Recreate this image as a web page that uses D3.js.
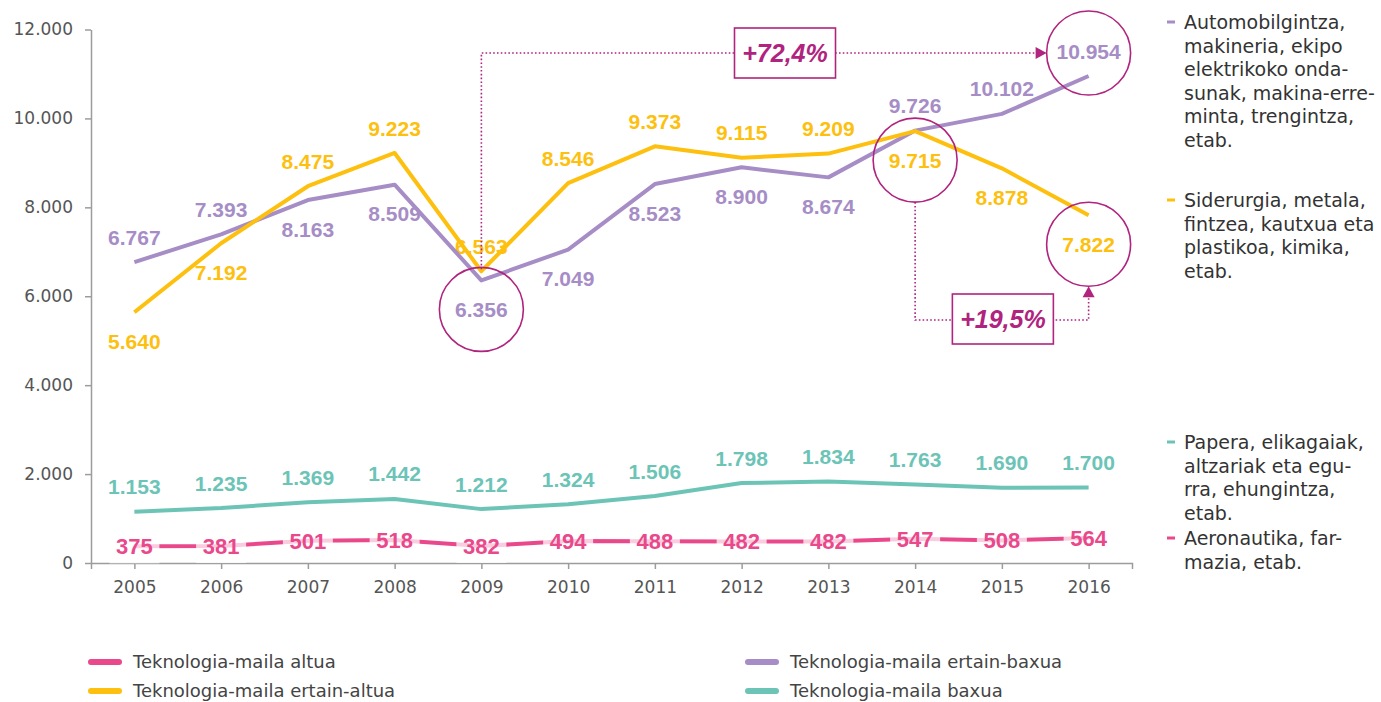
<!DOCTYPE html>
<html>
<head>
<meta charset="utf-8">
<script src="https://cdn.jsdelivr.net/npm/d3@7"></script>
<style>
  body { margin: 0; background: #fff; }
  svg text { font-family: "DejaVu Sans", sans-serif; }
</style>
</head>
<body>
<svg id="chart" width="1381" height="702"></svg>
<script>
// data
var years = [2005, 2006, 2007, 2008, 2009, 2010, 2011, 2012, 2013, 2014, 2015, 2016];
var altua = [375, 381, 501, 518, 382, 494, 488, 482, 482, 547, 508, 564];
var ertainAltua = [5640, 7192, 8475, 9223, 6563, 8546, 9373, 9115, 9209, 9715, 8878, 7822];
var ertainBaxua = [6767, 7393, 8163, 8509, 6356, 7049, 8523, 8900, 8674, 9726, 10102, 10954];
var baxua = [1153, 1235, 1369, 1442, 1212, 1324, 1506, 1798, 1834, 1763, 1690, 1700];
var yTicks = [0, 2000, 4000, 6000, 8000, 10000, 12000];

// where the value label sits (above / below the line)
var ertainAltuaPos = ["down", "down", "up", "up", "up", "up", "up", "up", "up", "down", "down", "down"];
var ertainBaxuaPos = ["up", "up", "down", "down", "down", "down", "down", "down", "down", "up", "up", "up"];

var legendNames = ["Teknologia-maila altua", "Teknologia-maila ertain-altua",
                   "Teknologia-maila ertain-baxua", "Teknologia-maila baxua"];

var sideNotes = [
  ["Automobilgintza,", "makineria, ekipo", "elektrikoko onda-", "sunak, makina-erre-", "minta, trengintza,", "etab."],
  ["Siderurgia, metala,", "fintzea, kautxua eta", "plastikoa, kimika,", "etab."],
  ["Papera, elikagaiak,", "altzariak eta egu-", "rra, ehungintza,", "etab."],
  ["Aeronautika, far-", "mazia, etab."]
];

var changeLabels = ["+72,4%", "+19,5%"];

var PINK = "#e9488b", YELLOW = "#fdc00f", PURPLE = "#a68dc6", TEAL = "#6cc4b7", MAGENTA = "#b0237e";

var locale = d3.formatLocale({ decimal: ",", thousands: ".", grouping: [3], currency: ["", "€"] });
var fmt = locale.format(",d");

var svg = d3.select("#chart");

var x = d3.scalePoint().domain(years).range([91, 1132]).padding(0.5);
var y = d3.scaleLinear().domain([0, 12000]).range([563, 29.5]);

// axes
var yAxis = d3.axisLeft(y).tickValues(yTicks).tickSize(6).tickSizeOuter(0).tickPadding(12).tickFormat(fmt);
var xAxis = d3.axisBottom(x).tickSize(6).tickSizeOuter(6).tickPadding(12);

var gy = svg.append("g").attr("transform", "translate(91,0)").call(yAxis);
var gx = svg.append("g").attr("transform", "translate(0,563)").call(xAxis);
[gx, gy].forEach(function (g) {
  g.selectAll("path, line").attr("stroke", "#9c9c9c").attr("stroke-width", 1.5);
  g.selectAll("text").attr("fill", "#555").style("font-size", "17px").style("font-family", "DejaVu Sans");
});

var line = d3.line().x(function (d, i) { return x(years[i]); }).y(function (d) { return y(d); });

function labelY(v, pos) {
  return pos === "up" ? y(v) - 25 : y(v) + 29;
}

function drawLabels(values, posArr, color) {
  svg.append("g").selectAll("text")
    .data(values)
    .enter()
    .append("text")
    .attr("x", function (d, i) { return x(years[i]); })
    .attr("y", function (d, i) { return labelY(d, posArr ? posArr[i] : "up"); })
    .attr("dy", "0.36em")
    .attr("text-anchor", "middle")
    .attr("fill", color)
    .style("font-family", "Liberation Sans, Arial, sans-serif")
    .style("font-weight", "bold")
    .style("font-size", "21px")
    .text(fmt);
}

// labels sit under the lines
drawLabels(ertainBaxua, ertainBaxuaPos, PURPLE);
drawLabels(ertainAltua, ertainAltuaPos, YELLOW);
drawLabels(baxua, null, TEAL);

function drawLine(values, color) {
  svg.append("path")
    .datum(values)
    .attr("fill", "none")
    .attr("stroke", color)
    .attr("stroke-width", 4)
    .attr("stroke-linejoin", "round")
    .attr("d", line);
}

drawLine(baxua, TEAL);
drawLine(altua, PINK);
drawLine(ertainBaxua, PURPLE);
drawLine(ertainAltua, YELLOW);

// pink labels on top of the line with a pale box
var pinkG = svg.append("g").selectAll("g")
  .data(altua)
  .enter()
  .append("g")
  .attr("transform", function (d, i) { return "translate(" + x(years[i]) + "," + y(d) + ")"; });
pinkG.append("rect")
  .attr("x", -25).attr("y", -16).attr("width", 50).attr("height", 33)
  .attr("fill", "#fff").attr("fill-opacity", 0.72);
pinkG.append("text")
  .attr("dy", "0.36em")
  .attr("text-anchor", "middle")
  .attr("fill", PINK)
  .style("font-family", "Liberation Sans, Arial, sans-serif")
  .style("font-weight", "bold")
  .style("font-size", "22px")
  .text(fmt);

/* annotations */
var R = 42;
var c1 = { x: x(2009), y: labelY(ertainBaxua[4], "down") };
var c2 = { x: x(2016), y: labelY(ertainBaxua[11], "up") + 2 };
var c3 = { x: x(2014), y: labelY(ertainAltua[9], "down") };
var c4 = { x: x(2016), y: labelY(ertainAltua[11], "down") };

var ann = svg.append("g");
ann.selectAll("circle")
  .data([c1, c2, c3, c4])
  .enter()
  .append("circle")
  .attr("cx", function (d) { return d.x; })
  .attr("cy", function (d) { return d.y; })
  .attr("r", R)
  .attr("fill", "none")
  .attr("stroke", MAGENTA)
  .attr("stroke-width", 1.6);

var dotted = function (d) {
  ann.append("path").attr("d", d).attr("fill", "none")
    .attr("stroke", MAGENTA).attr("stroke-width", 1.6).attr("stroke-dasharray", "1.6,2.2");
};

// 2009 -> 2016 (ertain-baxua)
var lineY1 = c2.y;
dotted("M" + c1.x + "," + (y(ertainAltua[4]) - 2) + "V" + lineY1 + "H" + (c2.x - R - 10));
ann.append("path")
  .attr("d", "M" + (c2.x - R) + "," + lineY1 + "l-11,-6v12z")
  .attr("fill", MAGENTA);

// 2014 -> 2016 (ertain-altua)
var lineY2 = 320;
dotted("M" + c3.x + "," + (c3.y + R) + "V" + lineY2 + "H" + c4.x + "V" + (c4.y + R + 10));
ann.append("path")
  .attr("d", "M" + c4.x + "," + (c4.y + R) + "l-6,11h12z")
  .attr("fill", MAGENTA);

var boxes = [
  { cx: (x(2012) + x(2013)) / 2, cy: lineY1, text: changeLabels[0] },
  { cx: x(2015) + 1, cy: lineY2 - 1, text: changeLabels[1] }
];
var bg = ann.selectAll("g.box").data(boxes).enter().append("g")
  .attr("transform", function (d) { return "translate(" + d.cx + "," + d.cy + ")"; });
bg.append("rect")
  .attr("x", -50.5).attr("y", -25).attr("width", 101).attr("height", 50)
  .attr("fill", "#fff").attr("stroke", MAGENTA).attr("stroke-width", 1.6);
bg.append("text")
  .attr("text-anchor", "middle")
  .attr("dy", "0.36em")
  .attr("fill", MAGENTA)
  .style("font-family", "Liberation Sans, Arial, sans-serif")
  .style("font-weight", "bold")
  .style("font-style", "italic")
  .style("font-size", "25px")
  .text(function (d) { return d.text; });

/* bottom legend */
var legendColors = [PINK, YELLOW, PURPLE, TEAL];
var legItems = svg.append("g").selectAll("g")
  .data(legendNames)
  .enter()
  .append("g")
  .attr("transform", function (d, i) {
    return "translate(" + (i < 2 ? 91 : 748) + "," + (i % 2 === 0 ? 662 : 691) + ")";
  });
legItems.append("line")
  .attr("x1", 0).attr("x2", 28)
  .attr("stroke", function (d, i) { return legendColors[i]; })
  .attr("stroke-width", 6)
  .attr("stroke-linecap", "round");
legItems.append("text")
  .attr("x", 42)
  .attr("dy", "0.35em")
  .attr("fill", "#444")
  .style("font-size", "18px")
  .text(function (d) { return d; });

/* side notes */
var sideColors = [PURPLE, YELLOW, TEAL, PINK];
var sideTop = [22, 200, 442, 538];
var sideG = svg.append("g").selectAll("g")
  .data(sideNotes)
  .enter()
  .append("g")
  .attr("transform", function (d, i) { return "translate(1167," + sideTop[i] + ")"; });
sideG.append("line")
  .attr("x1", 0).attr("x2", 8)
  .attr("stroke", function (d, i) { return sideColors[i]; })
  .attr("stroke-width", 3);
sideG.selectAll("text")
  .data(function (d) { return d; })
  .enter()
  .append("text")
  .attr("x", 17)
  .attr("y", function (d, i) { return i * 23.6 + 7; })
  .attr("fill", "#333")
  .style("font-size", "19px")
  .text(function (d) { return d; });
</script>
</body>
</html>
